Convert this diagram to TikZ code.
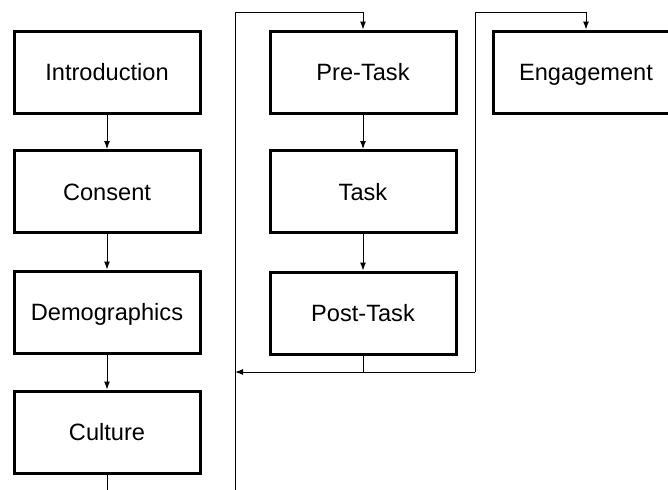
\documentclass[tikz,border=0pt]{standalone}
\usepackage{fontspec}
\setmainfont{Liberation Sans}
\usetikzlibrary{arrows.meta,calc}

\begin{document}
\begin{tikzpicture}[x=0.5pt,y=-0.5pt,
    box/.style={draw, line width=1.5pt, minimum width=93pt, minimum height=41pt,
      inner sep=0pt, text height=10pt, text depth=1.2pt,
      font=\fontsize{11.8}{13}\selectfont},
    link/.style={line width=0.5pt, -{Latex[length=4pt,width=3pt]}}]
      \useasboundingbox (0,0) rectangle (668,489);
      \clip (0,0) rectangle (668,489);
      % first column
      \node[box] (intro) at (107,72) {Introduction};
      \node[box] (consent) at (107,191.5) {Consent};
      \node[box] (demo) at (107,312) {Demographics};
      \node[box] (culture) at (107,432) {Culture};
      % second column
      \node[box] (pre) at (363,72) {Pre-Task};
      \node[box] (task) at (363,191.5) {Task};
      \node[box] (post) at (363,313) {Post-Task};
      % third column
      \node[box] (engage) at (586,72) {Engagement};
      % loop corners
      \coordinate (loopL) at (235,12);
      \coordinate (loopR) at (475,372);
      \coordinate (loopT) at (475,12);
      % arrows down the columns
      \draw[link] (intro) -- (consent);
      \draw[link] (consent) -- (demo);
      \draw[link] (demo) -- (culture);
      \draw[line width=0.5pt] (culture.south) -- ++(0,30);
      \draw[link] (pre) -- (task);
      \draw[link] (task) -- (post);
      % loops
      \draw[link] (loopL |- 0,500) -- (loopL) -| (pre.north);
      \draw[line width=0.5pt] (post.south) -- (post.south |- loopR);
      \draw[link] (loopR) -- (loopL |- loopR);
      \draw[link] (loopR) -- (loopT) -| (engage.north);
    \end{tikzpicture}
\end{document}
